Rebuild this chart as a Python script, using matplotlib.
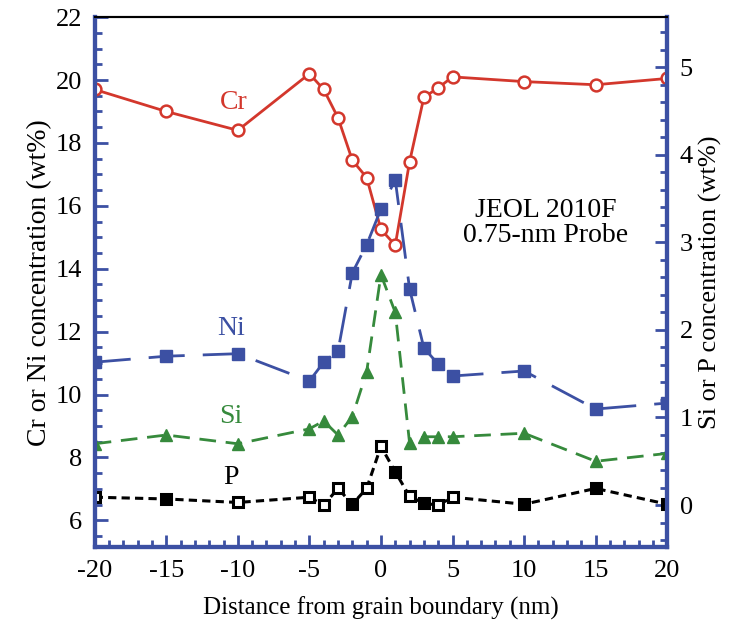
import numpy as np
import matplotlib.pyplot as plt
from matplotlib.ticker import MultipleLocator

plt.rcParams['font.family'] = ['Liberation Serif', 'DejaVu Serif']
plt.rcParams['axes.unicode_minus'] = False

# distance from grain boundary (nm)
x_cr = [-20, -15, -10, -5, -4, -3, -2, -1, 0, 1, 2, 3, 4, 5, 10, 15, 20]
cr = [19.7, 19.0, 18.4, 20.2, 19.7, 18.8, 17.45, 16.9, 15.25, 14.75, 17.4, 19.45, 19.75, 20.1, 19.95, 19.85, 20.05]

x_ni = [-20, -15, -10, -5, -4, -3, -2, -1, 0, 1, 2, 3, 4, 5, 10, 15, 20]
ni = [11.03, 11.22, 11.3, 10.43, 11.03, 11.38, 13.87, 14.76, 15.9, 16.83, 13.36, 11.48, 10.97, 10.59, 10.75, 9.54, 9.73]

x_si = [-20, -15, -10, -5, -4, -3, -2, -1, 0, 1, 2, 3, 4, 5, 10, 15, 20]
si = [0.70, 0.80, 0.70, 0.87, 0.96, 0.80, 1.01, 1.52, 2.63, 2.20, 0.71, 0.78, 0.78, 0.78, 0.82, 0.50, 0.59]

x_p = [-20, -15, -10, -5, -4, -3, -2, -1, 0, 1, 2, 3, 4, 5, 10, 15, 20]
p = [0.09, 0.07, 0.03, 0.09, 0.0, 0.19, 0.01, 0.19, 0.67, 0.38, 0.10, 0.02, 0.0, 0.09, 0.01, 0.19, 0.01]
p_filled = [False, True, False, False, False, False, True, False, False, True, False, True, False, False, True, True, True]

red = '#d3372c'
blue = '#3c50a3'
green = '#368a3c'

fig = plt.figure(figsize=(7.34, 6.34), dpi=100)
ax = fig.add_axes([0.129, 0.137, 0.78, 0.836])
ax2 = ax.twinx()

ax.plot(x_cr, cr, color=red, lw=2, marker='o', ms=8.5, mfc='white', mec=red, mew=1.8, zorder=3)
ax.plot(x_ni, ni, color=blue, lw=2, ls=(0, (13, 6.5)), marker='s', ms=8, mfc=blue, mec=blue, zorder=3)

ax2.plot(x_si, si, color=green, lw=2, ls=(0, (6, 3.5)), marker='^', ms=8, mfc=green, mec=green)
ax2.plot(x_p, p, color='black', lw=2.2, ls=(0, (2.7, 1.7)))
for xi, yi, f in zip(x_p, p, p_filled):
    ax2.plot(xi, yi, marker='s', ms=7, mfc='black' if f else 'white', mec='black', mew=2.2)

ax.set_xlim(-20, 20)
ax.set_ylim(5.15, 22)
ax2.set_ylim(-0.48, 5.57)

ax.xaxis.set_major_locator(MultipleLocator(5))
ax.xaxis.set_minor_locator(MultipleLocator(1))
ax.yaxis.set_major_locator(MultipleLocator(2))
ax.yaxis.set_minor_locator(MultipleLocator(0.5))
ax2.yaxis.set_major_locator(MultipleLocator(1))
ax2.yaxis.set_minor_locator(MultipleLocator(0.2))

for a in (ax, ax2):
    a.tick_params(which='both', direction='in', color=blue, width=2, labelsize=19, top=False)
    a.tick_params(which='major', length=9, pad=9)
    a.tick_params(which='minor', length=5)
    for side in ('left', 'right', 'bottom'):
        a.spines[side].set_color(blue)
        a.spines[side].set_linewidth(3)
    a.spines['top'].set_color('black')
    a.spines['top'].set_linewidth(1.5)
ax.tick_params(axis='y', right=False)
ax2.tick_params(axis='y', left=False)

ax.set_xlabel('Distance from grain boundary (nm)', fontsize=18)
ax.set_ylabel('Cr or Ni concentration (wt%)', fontsize=20)
ax2.set_ylabel('Si or P concentration (wt%)', fontsize=19, rotation=90)
ax.xaxis.set_label_coords(0.5, -0.093)
ax.yaxis.set_label_coords(-0.074, 0.5)
ax2.yaxis.set_label_coords(1.056, 0.5)

ax.text(-10.3, 19.3, 'Cr', color=red, fontsize=20, ha='center', va='center')
ax.text(-10.5, 12.1, 'Ni', color=blue, fontsize=20, ha='center', va='center')
ax.text(-10.5, 9.3, 'Si', color=green, fontsize=20, ha='center', va='center')
ax.text(-10.5, 7.35, 'P', color='black', fontsize=20, ha='center', va='center')
ax.text(11.5, 15.45, 'JEOL 2010F\n0.75-nm Probe', fontsize=20, ha='center', va='center',
        linespacing=1.0)

fig.savefig('out.png', dpi=100)
